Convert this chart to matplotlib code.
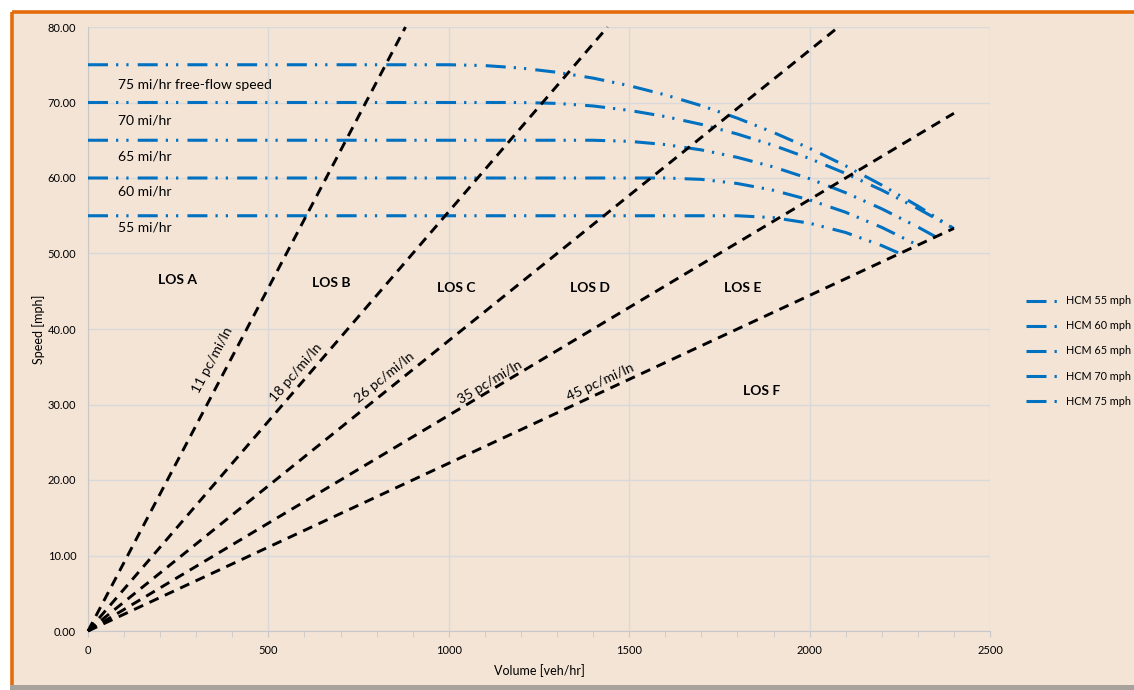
import numpy as np
import matplotlib
matplotlib.use("Agg")
import matplotlib.pyplot as plt
from matplotlib.lines import Line2D
from matplotlib.patches import Rectangle
from matplotlib.ticker import MultipleLocator

plt.rcParams["font.family"] = ["Lato", "DejaVu Sans"]
plt.rcParams["lines.scale_dashes"] = False

BG = "#F4E4D6"
BLUE = "#0070C0"
ORANGE = "#E46C0A"
GRID = "#D9D9D9"

# HCM speed-flow curves, one per free-flow speed
ffs_labels = ["HCM 55 mph", "HCM 60 mph", "HCM 65 mph", "HCM 70 mph", "HCM 75 mph"]
vol_55 = [0, 1800, 1900, 2000, 2100, 2200, 2250]
spd_55 = [55, 55, 54.75, 54.01, 52.78, 51.05, 50.00]
vol_60 = [0, 1600, 1700, 1800, 1900, 2000, 2100, 2200, 2300]
spd_60 = [60, 60, 59.82, 59.27, 58.37, 57.09, 55.46, 53.46, 51.10]
vol_65 = [0, 1400, 1500, 1600, 1700, 1800, 1900, 2000, 2100, 2200, 2300, 2350]
spd_65 = [65, 65, 64.86, 64.43, 63.72, 62.73, 61.46, 59.90, 58.05, 55.92, 53.51, 52.20]
vol_70 = [0, 1200, 1300, 1400, 1500, 1600, 1700, 1800, 1900, 2000, 2100, 2200, 2300, 2400]
spd_70 = [70, 70, 69.88, 69.54, 68.96, 68.14, 67.10, 65.82, 64.32, 62.58, 60.60, 58.40, 55.96, 53.30]
vol_75 = [0, 1000, 1100, 1200, 1300, 1400, 1500, 1600, 1700, 1800, 1900, 2000, 2100, 2200, 2300, 2400]
spd_75 = [75, 75, 74.89, 74.56, 74.00, 73.23, 72.23, 71.01, 69.58, 67.92, 66.03, 63.93, 61.61, 59.06, 56.29, 53.30]
curves = [(vol_55, spd_55), (vol_60, spd_60), (vol_65, spd_65), (vol_70, spd_70), (vol_75, spd_75)]

curve_text = ["55 mi/hr", "60 mi/hr", "65 mi/hr", "70 mi/hr", "75 mi/hr free-flow speed"]
curve_text_y = [53.5, 58.2, 62.9, 67.6, 72.3]

# density boundaries (pc/mi/ln) and where each line stops
densities = [11, 18, 26, 35, 45]
density_end_vol = [880, 1440, 2080, 2400, 2400]
density_label_pos = [(344, 35.9), (576, 34.2), (823, 33.5), (1115, 33.0), (1419, 33.0)]

los_names = ["LOS A", "LOS B", "LOS C", "LOS D", "LOS E", "LOS F"]
los_pos = [(247, 46.5), (673, 46.1), (1020, 45.4), (1391, 45.4), (1815, 45.4), (1868, 31.8)]

W, H = 1134, 690
fig = plt.figure(figsize=(W / 100, H / 100), dpi=100)
fig.patch.set_facecolor("white")

# chart area frame: orange edge on top/left, shadow along the bottom
fig.patches.append(Rectangle((12 / W, 5 / H), 1.2, 1 - 17 / H, transform=fig.transFigure,
                             facecolor=BG, edgecolor="none", zorder=-10))
fig.patches.append(Rectangle((10 / W, 0), 1, 5 / H, transform=fig.transFigure,
                             facecolor="#A8A29C", edgecolor="none", zorder=-10))
fig.add_artist(Line2D([12 / W, 12 / W], [5 / H, 1 - 12 / H], transform=fig.transFigure,
                      color=ORANGE, lw=2.6, solid_capstyle="butt", zorder=-9))
fig.add_artist(Line2D([12 / W, 1], [1 - 12 / H, 1 - 12 / H], transform=fig.transFigure,
                      color=ORANGE, lw=2.6, solid_capstyle="butt", zorder=-9))

ax = fig.add_axes([88 / W, 1 - 631 / H, (990 - 88) / W, (631 - 27) / H])
ax.set_facecolor(BG)
ax.set_xlim(0, 2500)
ax.set_ylim(0, 80)

ax.xaxis.set_major_locator(MultipleLocator(500))
ax.xaxis.set_minor_locator(MultipleLocator(100))
ax.yaxis.set_major_locator(MultipleLocator(10))
ax.yaxis.set_major_formatter(lambda v, p: f"{v:.2f}")
ax.grid(True, which="major", color=GRID, lw=1.0)
ax.set_axisbelow(True)
for side in ["top", "right"]:
    ax.spines[side].set_visible(False)
for side in ["left", "bottom"]:
    ax.spines[side].set_color("#C8C8C8")
ax.tick_params(axis="x", which="both", direction="out", length=4, color="#C8C8C8",
               labelsize=8, pad=6)
ax.tick_params(axis="y", length=0, labelsize=8, pad=8.5)

ax.set_xlabel("Volume [veh/hr]", fontsize=9, labelpad=6)
ax.set_ylabel("Speed [mph]", fontsize=9, labelpad=2)

dash_style = (0, (14.4, 5.8, 1.6, 5.8, 1.6, 6.6))
handles = []
for (v, s), name in zip(curves, ffs_labels):
    ln, = ax.plot(v, s, color=BLUE, lw=2.2, linestyle=dash_style, dash_capstyle="butt",
                  label=name, zorder=3)
    handles.append(ln)

for text, y in zip(curve_text, curve_text_y):
    ax.text(83, y, text, fontsize=10, ha="left", va="center")

for k, vend, (lx, ly) in zip(densities, density_end_vol, density_label_pos):
    ax.plot([0, vend], [0, vend / k], color="black", lw=2.1,
            linestyle=(0, (7.2, 5.0)), dash_capstyle="butt", zorder=4, clip_on=False)
    ang = np.degrees(np.arctan2(1.0, k))
    ax.text(lx, ly, f"{k} pc/mi/ln", fontsize=10, ha="center", va="center",
            rotation=ang, transform_rotates_text=True, rotation_mode="anchor")

for name, (x, y) in zip(los_names, los_pos):
    ax.text(x, y, name, fontsize=10, fontweight="bold", ha="center", va="center")

leg = fig.legend(handles=handles, loc="center left", bbox_to_anchor=(1016 / W, 1 - 351 / H),
                 frameon=False, fontsize=7.8, handlelength=3.2, handletextpad=0.5,
                 labelspacing=1.3)

fig.savefig("out.png", dpi=100, facecolor=fig.get_facecolor())
